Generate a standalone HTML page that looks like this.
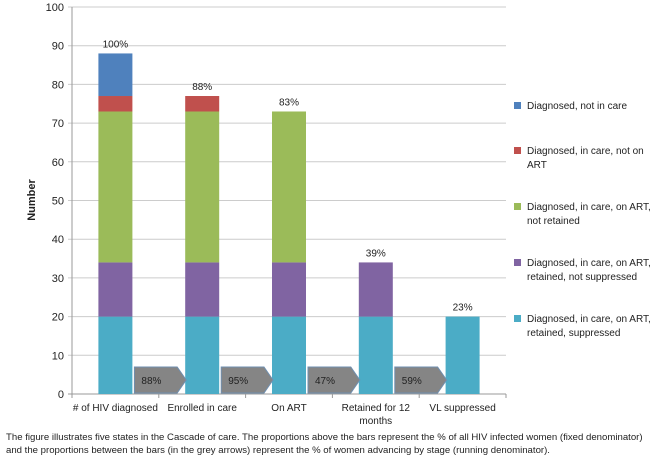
<!DOCTYPE html>
<html><head><meta charset="utf-8"><style>
body{margin:0;background:#fff;font-family:"Liberation Sans",sans-serif;}
svg text{font-family:"Liberation Sans",sans-serif;fill:#222;}
</style></head><body>
<svg id="chart" width="661" height="460">
<g id="grid"></g><g id="bars"></g><g id="arrows"></g><g id="labels"></g><g id="legend"></g>
<text x="35" y="200" font-size="11" font-weight="bold" transform="rotate(-90 35 200)" text-anchor="middle">Number</text>
<text x="6" y="440" font-size="9.6">The figure illustrates five states in the Cascade of care. The proportions above the bars represent the % of all HIV infected women (fixed denominator)</text>
<text x="6" y="453" font-size="9.6">and the proportions between the bars (in the grey arrows) represent the % of women advancing by stage (running denominator).</text>
</svg>
<script>
const categories=["# of HIV diagnosed","Enrolled in care","On ART","Retained for 12|months","VL suppressed"];
const suppressed=[20,20,20,20,20];
const notSuppressed=[14,14,14,14,0];
const notRetained=[39,39,39,0,0];
const notOnArt=[4,4,0,0,0];
const notInCare=[11,0,0,0,0];
const topLabels=["100%","88%","83%","39%","23%"];
const stepLabels=["88%","95%","47%","59%"];
const yTicks=[0,10,20,30,40,50,60,70,80,90,100];
const seriesNames=["Diagnosed, not in care","Diagnosed, in care, not on|ART","Diagnosed, in care, on ART,|not retained","Diagnosed, in care, on ART,|retained, not suppressed","Diagnosed, in care, on ART,|retained, suppressed"];
const NS="http://www.w3.org/2000/svg";
const X0=72,X1=506,Y0=394,Y100=7;
const y=v=>Y0-(Y0-Y100)*v/100;
const band=(X1-X0)/categories.length;
const cx=i=>X0+band*(i+0.5);
const bw=34;
function mk(tag,attrs,parent){const e=document.createElementNS(NS,tag);for(const k in attrs)e.setAttribute(k,attrs[k]);document.getElementById(parent).appendChild(e);return e;}
yTicks.forEach(t=>{
  const l=mk('line',{x1:X0-4,x2:X1,y1:y(t),y2:y(t),stroke:t===0?'#999':'#ccc','stroke-width':1},'grid');
  
  
  const tx=mk('text',{x:X0-8,y:y(t)+4,'font-size':11,'text-anchor':'end'},'grid');tx.textContent=t;
  
  
});
const ax=mk('line',{x1:X0,x2:X0,y1:Y100,y2:Y0,stroke:'#999'},'grid');


for(let i=0;i<=categories.length;i++){const tk=mk('line',{x1:X0+band*i,x2:X0+band*i,y1:Y0,y2:Y0+4,stroke:'#999'},'grid');

}
const series=[[suppressed,'#4bacc6'],[notSuppressed,'#8064a2'],[notRetained,'#9bbb59'],[notOnArt,'#c0504d'],[notInCare,'#4f81bd']];
categories.forEach((c,i)=>{
  let base=0;
  series.forEach(([arr,col],s)=>{
    if(arr[i]>0){const r=mk('rect',{x:cx(i)-bw/2,y:y(base+arr[i]),width:bw,height:y(base)-y(base+arr[i]),fill:col},'bars');
    
    }
    base+=arr[i];
  });
  const t=mk('text',{x:cx(i),y:y(base)-6,'font-size':10,'text-anchor':'middle'},'labels');t.textContent=topLabels[i];
  
  
  const parts=c.split('|');
  parts.forEach((p,k)=>{const xt=mk('text',{x:cx(i),y:411+k*13,'font-size':10,'text-anchor':'middle'},'labels');xt.textContent=p;
  
  });
});
stepLabels.forEach((s,i)=>{
  const l=cx(i)+bw/2+2,r=cx(i+1)-bw/2+1,top=367,bot=393,tip=r-9;
  const p=mk('polygon',{points:`${l},${top} ${tip},${top} ${r},${(top+bot)/2} ${tip},${bot} ${l},${bot}`,fill:'#858585',stroke:'#6f8fb0','stroke-width':1},'arrows');
  
  
  const t=mk('text',{x:l+7,y:384,'font-size':10},'arrows');t.textContent=s;
  
  
});
const legY=[109,154,210,266,322];
const legCols=['#4f81bd','#c0504d','#9bbb59','#8064a2','#4bacc6'];
seriesNames.forEach((n,i)=>{
  const r=mk('rect',{x:514,y:legY[i]-7,width:7,height:7,fill:legCols[i]},'legend');
  
  
  n.split('|').forEach((p,k)=>{const t=mk('text',{x:527,y:legY[i]+k*14,'font-size':10},'legend');t.textContent=p;
  
  });
});
</script>
</body></html>
